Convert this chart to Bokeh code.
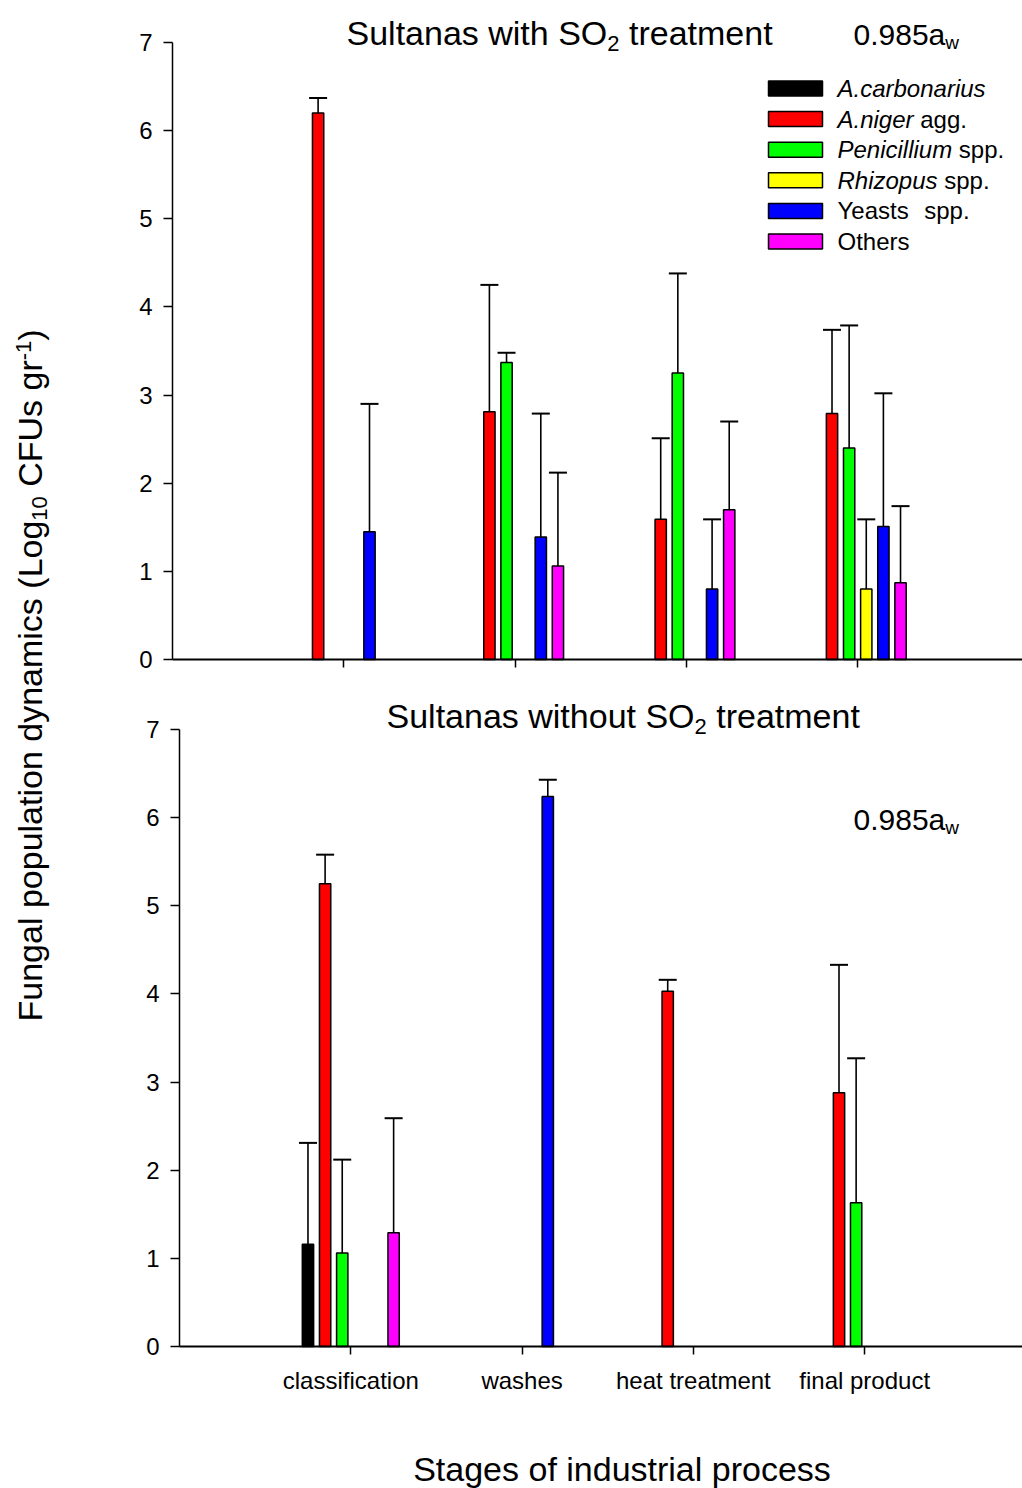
import math
import re

from bokeh.embed import file_html
from bokeh.layouts import column, row
from bokeh.models import ColumnDataSource, FixedTicker, Label, Range1d, TeeHead, Whisker
from bokeh.plotting import figure
from bokeh.resources import INLINE

nan = float("nan")

# ---------------------------------------------------------------- data
stages = ["classification", "washes", "heat treatment", "final product"]
taxa = ["A.carbonarius", "A.niger agg.", "Penicillium spp.", "Rhizopus spp.", "Yeasts  spp.", "Others"]
taxa_colors = ["#000000", "#FF0000", "#00FF00", "#FFFF00", "#0000FF", "#FF00FF"]

# Sultanas with SO2 treatment: mean log10 CFU/g per stage and its standard deviation
so2_carbonarius = [nan, nan, nan, nan]
so2_carbonarius_sd = [nan, nan, nan, nan]
so2_niger = [6.20, 2.81, 1.59, 2.79]
so2_niger_sd = [0.17, 1.44, 0.92, 0.95]
so2_penicillium = [nan, 3.37, 3.25, 2.40]
so2_penicillium_sd = [nan, 0.11, 1.13, 1.39]
so2_rhizopus = [nan, nan, nan, 0.80]
so2_rhizopus_sd = [nan, nan, nan, 0.79]
so2_yeasts = [1.45, 1.39, 0.80, 1.51]
so2_yeasts_sd = [1.45, 1.40, 0.79, 1.51]
so2_others = [nan, 1.06, 1.70, 0.87]
so2_others_sd = [nan, 1.06, 1.00, 0.87]

# Sultanas without SO2 treatment
raw_carbonarius = [1.16, nan, nan, nan]
raw_carbonarius_sd = [1.15, nan, nan, nan]
raw_niger = [5.25, nan, 4.03, 2.88]
raw_niger_sd = [0.33, nan, 0.13, 1.45]
raw_penicillium = [1.06, nan, nan, 1.63]
raw_penicillium_sd = [1.06, nan, nan, 1.64]
raw_rhizopus = [nan, nan, nan, nan]
raw_rhizopus_sd = [nan, nan, nan, nan]
raw_yeasts = [nan, 6.24, nan, nan]
raw_yeasts_sd = [nan, 0.19, nan, nan]
raw_others = [1.29, nan, nan, nan]
raw_others_sd = [1.30, nan, nan, nan]

y_ticks = [0, 1, 2, 3, 4, 5, 6, 7]

# ---------------------------------------------------------------- geometry
FONT = "Liberation Sans"
PX = 171.3          # pixels per stage step
PY = 617 / 7        # pixels per log unit
SLOT = 0.1          # distance between neighbouring bars of a group
BAR_W = 0.066
LEFT_W = 60         # width of the strip holding the shared y title
FRAME_L = 120       # page x where the panel frames begin
BORDER_L = FRAME_L - LEFT_W
MID = 0.3465        # distance baseline -> em-box middle, in em

# Arial / Liberation Sans advance widths (1/1000 em)
ADV = {" ": 278, "(": 333, ")": 333, "-": 333, ".": 278, "A": 667, "C": 722, "F": 611,
       "L": 556, "O": 778, "P": 667, "R": 722, "S": 667, "U": 722, "Y": 667,
       "a": 556, "b": 556, "c": 500, "d": 556, "e": 556, "f": 278, "g": 556, "h": 556,
       "i": 222, "l": 222, "m": 833, "n": 556, "o": 556, "p": 556, "r": 333, "s": 500,
       "t": 278, "u": 556, "w": 722, "y": 500, "z": 500}


def text_width(s, size):
    return sum(ADV.get(ch, 556) for ch in s) * size / 1000.0


def put_text(p, to_data, px, py, text, size, style="normal", align="left", angle=0.0):
    """Draw text whose baseline starts at page pixel (px, py); spaces are kept as gaps."""
    for m in re.finditer(r"\S+(?: \S+)*", text):
        adv = text_width(text[:m.start()], size)
        if angle:
            ax, ay = px - MID * size, py - adv
        else:
            ax, ay = px + adv, py - MID * size
        x, y = to_data(ax, ay)
        p.add_layout(Label(x=x, y=y, text=m.group(0), text_font=FONT,
                           text_font_size=f"{size}px", text_font_style=style,
                           text_color="black", text_baseline="middle", text_align=align,
                           angle=angle))


def put_runs(p, to_data, px, py, runs, angle=0.0):
    # runs: (text, size, baseline shift, style); shifts are along the glyph "down" direction
    s = 0.0
    for txt, size, shift, style in runs:
        if angle:
            put_text(p, to_data, px + shift, py - s, txt, size, style, angle=angle)
        else:
            put_text(p, to_data, px + s, py + shift, txt, size, style)
        s += text_width(txt, size)


def make_panel(fig_top, fig_bottom, axis_x, axis_y, tick_labels, label_size, standoff):
    # the frame fills the whole canvas right of FRAME_L; both axes are pinned at data 0
    x_start = (FRAME_L - axis_x) / PX
    x_end = (1022 - axis_x) / PX
    y_start = -(fig_bottom - axis_y) / PY
    y_end = (axis_y - fig_top) / PY
    p = figure(width=1022 - LEFT_W, height=fig_bottom - fig_top,
               x_range=Range1d(x_start, x_end), y_range=Range1d(y_start, y_end),
               output_backend="svg", toolbar_location=None,
               min_border_left=BORDER_L, min_border_right=0, min_border_top=0,
               min_border_bottom=0)
    p.outline_line_color = None
    p.grid.visible = False
    p.background_fill_color = "white"
    p.border_fill_color = "white"

    ya = p.yaxis[0]
    ya.fixed_location = 0
    ya.ticker = FixedTicker(ticks=y_ticks)
    ya.bounds = (0, 7)
    ya.minor_tick_line_color = None
    ya.major_tick_in = 0
    ya.major_tick_out = 9
    ya.major_tick_line_width = 1.5
    ya.axis_line_width = 1.5
    ya.major_label_text_font = FONT
    ya.major_label_text_font_size = "24px"
    ya.major_label_text_color = "black"
    ya.major_label_standoff = 11

    xa = p.xaxis[0]
    xa.fixed_location = 0
    xa.ticker = FixedTicker(ticks=[1, 2, 3, 4])
    xa.bounds = (0, x_end)
    xa.minor_tick_line_color = None
    xa.major_tick_in = 0
    xa.major_tick_out = 8
    xa.major_tick_line_width = 1.5
    xa.axis_line_width = 2.2
    xa.major_label_overrides = {k + 1: lab for k, lab in enumerate(tick_labels)}
    xa.major_label_text_font = FONT
    xa.major_label_text_font_size = label_size
    xa.major_label_text_color = "black"
    xa.major_label_standoff = standoff
    return p


def add_bars(p, means, sds):
    for i, (m, sd) in enumerate(zip(means, sds)):
        xs, tops, uppers = [], [], []
        for k, (mv, sv) in enumerate(zip(m, sd)):
            if math.isnan(mv):
                continue
            xs.append(k + 1 + (i - 2.5) * SLOT)
            tops.append(mv)
            uppers.append(mv + sv)
        if not xs:
            continue
        src = ColumnDataSource(dict(x=xs, top=tops, upper=uppers))
        p.vbar(x="x", top="top", bottom=0, width=BAR_W, source=src,
               fill_color=taxa_colors[i], line_color="black", line_width=1.5)
        p.add_layout(Whisker(source=src, base="x", lower="top", upper="upper",
                             line_color="black", line_width=1.6,
                             upper_head=TeeHead(size=18, line_width=2, line_color="black"),
                             lower_head=None))


# ---------------------------------------------------------------- top panel (page y 0..679)
TOP_AXIS_X, TOP_AXIS_Y = 172, 659
top_fig = make_panel(0, 679, TOP_AXIS_X, TOP_AXIS_Y, ["", "", "", ""], "1px", 0)


def top_xy(px, py):
    return (px - TOP_AXIS_X) / PX, (TOP_AXIS_Y - py) / PY


add_bars(top_fig,
         [so2_carbonarius, so2_niger, so2_penicillium, so2_rhizopus, so2_yeasts, so2_others],
         [so2_carbonarius_sd, so2_niger_sd, so2_penicillium_sd, so2_rhizopus_sd,
          so2_yeasts_sd, so2_others_sd])

put_runs(top_fig, top_xy, 346, 44, [("Sultanas with SO", 34, 0, "normal"),
                                     ("2", 22, 7, "normal"),
                                     (" treatment", 34, 0, "normal")])
put_runs(top_fig, top_xy, 853, 44, [("0.985a", 30, 0, "normal"), ("w", 19, 5, "normal")])

# legend: swatch + italic genus name + plain suffix
legend_parts = [("A.carbonarius", ""), ("A.niger", " agg."), ("Penicillium", " spp."),
                ("Rhizopus", " spp."), ("", "Yeasts  spp."), ("", "Others")]
row_y = [88 + 30.6 * k for k in range(6)]
sw = ColumnDataSource(dict(
    x=[top_xy(795, 0)[0]] * 6,
    y=[top_xy(0, yy)[1] for yy in row_y],
    c=taxa_colors))
top_fig.rect(x="x", y="y", width=54, height=15, width_units="screen", height_units="screen",
             fill_color="c", line_color="black", line_width=1.5, source=sw)
for (ital, plain), yy in zip(legend_parts, row_y):
    put_runs(top_fig, top_xy, 837, yy + MID * 24,
             [(ital, 24, 0, "italic"), (plain, 24, 0, "normal")])

# ---------------------------------------------------------------- bottom panel (page y 679..1430)
BOT_AXIS_X, BOT_AXIS_Y = 179, 1346
bottom_fig = make_panel(679, 1430, BOT_AXIS_X, BOT_AXIS_Y, stages, "24px", 12)


def bot_xy(px, py):
    return (px - BOT_AXIS_X) / PX, (BOT_AXIS_Y - py) / PY


add_bars(bottom_fig,
         [raw_carbonarius, raw_niger, raw_penicillium, raw_rhizopus, raw_yeasts, raw_others],
         [raw_carbonarius_sd, raw_niger_sd, raw_penicillium_sd, raw_rhizopus_sd,
          raw_yeasts_sd, raw_others_sd])

put_runs(bottom_fig, bot_xy, 386, 727, [("Sultanas without SO", 34, 0, "normal"),
                                         ("2", 22, 7, "normal"),
                                         (" treatment", 34, 0, "normal")])
put_runs(bottom_fig, bot_xy, 853, 829, [("0.985a", 30, 0, "normal"), ("w", 19, 5, "normal")])

# ---------------------------------------------------------------- x title strip (page y 1430..1488)
xt = figure(width=1022 - LEFT_W, height=58, x_range=Range1d(FRAME_L, 1022), y_range=Range1d(0, 58),
            output_backend="svg", toolbar_location=None, min_border_left=BORDER_L,
            min_border_right=0, min_border_top=0, min_border_bottom=0,
            x_axis_type=None, y_axis_type=None)
xt.outline_line_color = None
xt.grid.visible = False
put_text(xt, lambda px, py: (px, 1488 - py), 621.5, 1480, "Stages of industrial process", 34,
         align="center")

# ---------------------------------------------------------------- shared y title
ylab = figure(width=LEFT_W, height=1488, x_range=Range1d(0, LEFT_W), y_range=Range1d(0, 1488),
              output_backend="svg", toolbar_location=None, min_border=0,
              x_axis_type=None, y_axis_type=None)
ylab.outline_line_color = None
ylab.grid.visible = False

put_runs(ylab, lambda px, py: (px, 1488 - py), 41, 1021,
         [("Fungal population dynamics (Log", 34, 0, "normal"),
          ("10", 22, 6, "normal"),
          (" CFUs gr", 34, 0, "normal"),
          ("-1", 22, -10, "normal"),
          (")", 34, 0, "normal")],
         angle=math.pi / 2)

layout = row(ylab, column(top_fig, bottom_fig, xt))
open("out.html", "w").write(file_html(layout, INLINE))
